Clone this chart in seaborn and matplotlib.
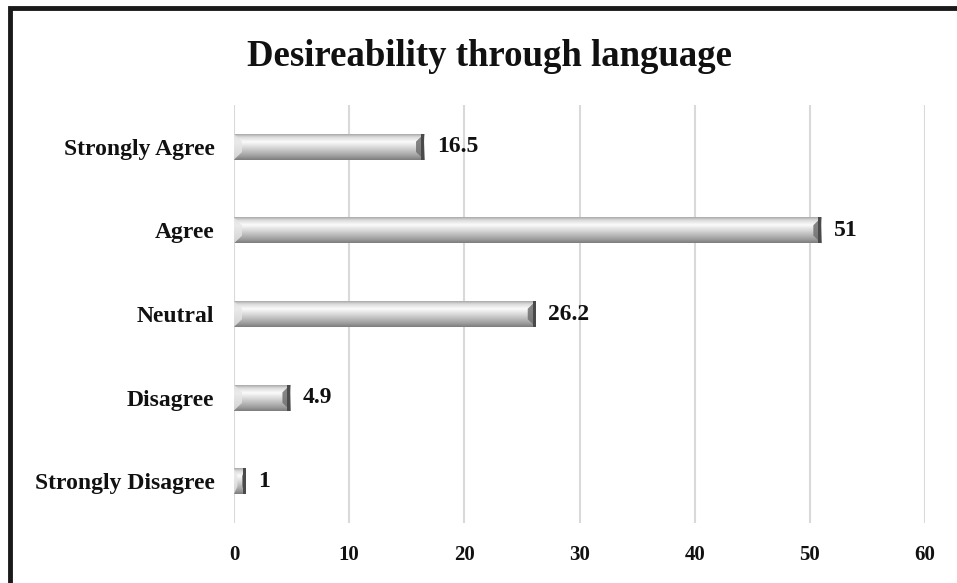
import numpy as np
import pandas as pd
import matplotlib
matplotlib.use("Agg")
import matplotlib.pyplot as plt
import seaborn as sns
from matplotlib.colors import LinearSegmentedColormap
from matplotlib.patches import Rectangle, Polygon

categories = ["Strongly Agree", "Agree", "Neutral", "Disagree", "Strongly Disagree"]
values = [16.5, 51, 26.2, 4.9, 1]
value_labels = ["16.5", "51", "26.2", "4.9", "1"]
xticks = [0, 10, 20, 30, 40, 50, 60]
title = "Desireability through language"

sns.set_theme(style="white")
plt.rcParams['font.family'] = ['Liberation Serif', 'DejaVu Serif']

df = pd.DataFrame({"category": categories, "value": values})

fig = plt.figure(figsize=(9.57, 5.83), dpi=100)
ax = fig.add_axes([234/957, 1-523/583, (925-234)/957, (523-105)/583])

sns.barplot(data=df, y="category", x="value", orient="h", ax=ax,
            color="#bbbbbb", width=0.31, edgecolor="none", zorder=3)

ax.set_xlim(0, 60)
ax.set_ylim(4.5, -0.5)
ax.set_xticks(xticks)
ax.set_xticklabels([str(t) for t in xticks], fontsize=15, fontweight="bold")
ax.set_ylabel("")
ax.set_xlabel("")
ax.tick_params(axis="x", length=0, pad=16)
ax.tick_params(axis="y", length=0, pad=14)
for lbl in ax.get_yticklabels():
    lbl.set_fontsize(17)
    lbl.set_fontweight("bold")
    lbl.set_color("#111111")
for lbl in ax.get_xticklabels():
    lbl.set_color("#111111")
ax.grid(axis="x", color="#d9d9d9", linewidth=1.5, zorder=0)
ax.grid(axis="y", visible=False)
for s in ax.spines.values():
    s.set_visible(False)

# cylinder gradient (top light, bottom dark)
cmap = LinearSegmentedColormap.from_list("cyl", [
    (0.0, "#a8a8a8"), (0.12, "#dcdcdc"), (0.3, "#fbfbfb"),
    (0.55, "#d2d2d2"), (0.85, "#9e9e9e"), (1.0, "#7c7c7c")])
grad = np.linspace(0, 1, 256).reshape(-1, 1)
unit = 60 / (925 - 234)  # data units per pixel
for bar, v, lab in zip(ax.patches, values, value_labels):
    x0, y0 = bar.get_x(), bar.get_y()
    w, h = bar.get_width(), bar.get_height()
    im = ax.imshow(grad, cmap=cmap, aspect="auto",
                   extent=[x0, x0 + w, y0 + h, y0], zorder=4, origin="upper")
    im.set_clip_path(bar)
    bar.set_facecolor("none")
    bev = min(8 * unit, w * 0.3)
    capw = min(3 * unit, w * 0.4)
    ax.add_patch(Polygon([(x0, y0), (x0 + bev, y0 + h * 0.3), (x0 + bev, y0 + h * 0.7), (x0, y0 + h)],
                         closed=True, facecolor="#e6e6e6", edgecolor="none", zorder=5, alpha=0.8))
    ax.add_patch(Polygon([(x0 + w, y0), (x0 + w - bev, y0 + h * 0.3), (x0 + w - bev, y0 + h * 0.7), (x0 + w, y0 + h)],
                         closed=True, facecolor="#707070", edgecolor="none", zorder=5, alpha=0.85))
    ax.add_patch(Rectangle((x0 + w - capw, y0), capw, h, facecolor="#4a4a4a",
                           edgecolor="none", zorder=6))
    ax.text(v + 1.1, y0 + h / 2, lab, va="center", ha="left",
            fontsize=17, fontweight="bold", color="#111111", zorder=6)

fig.text(490/957, 1 - 57/583, title, ha="center", va="center",
         fontsize=26.5, fontweight="bold", color="#111111")

fig.add_artist(Rectangle((10/957, -0.01), 1.0, 1 - 8/583 + 0.01,
                         transform=fig.transFigure, fill=False,
                         edgecolor="#1a1a1a", linewidth=3.5))

fig.savefig("out.png", dpi=100)
